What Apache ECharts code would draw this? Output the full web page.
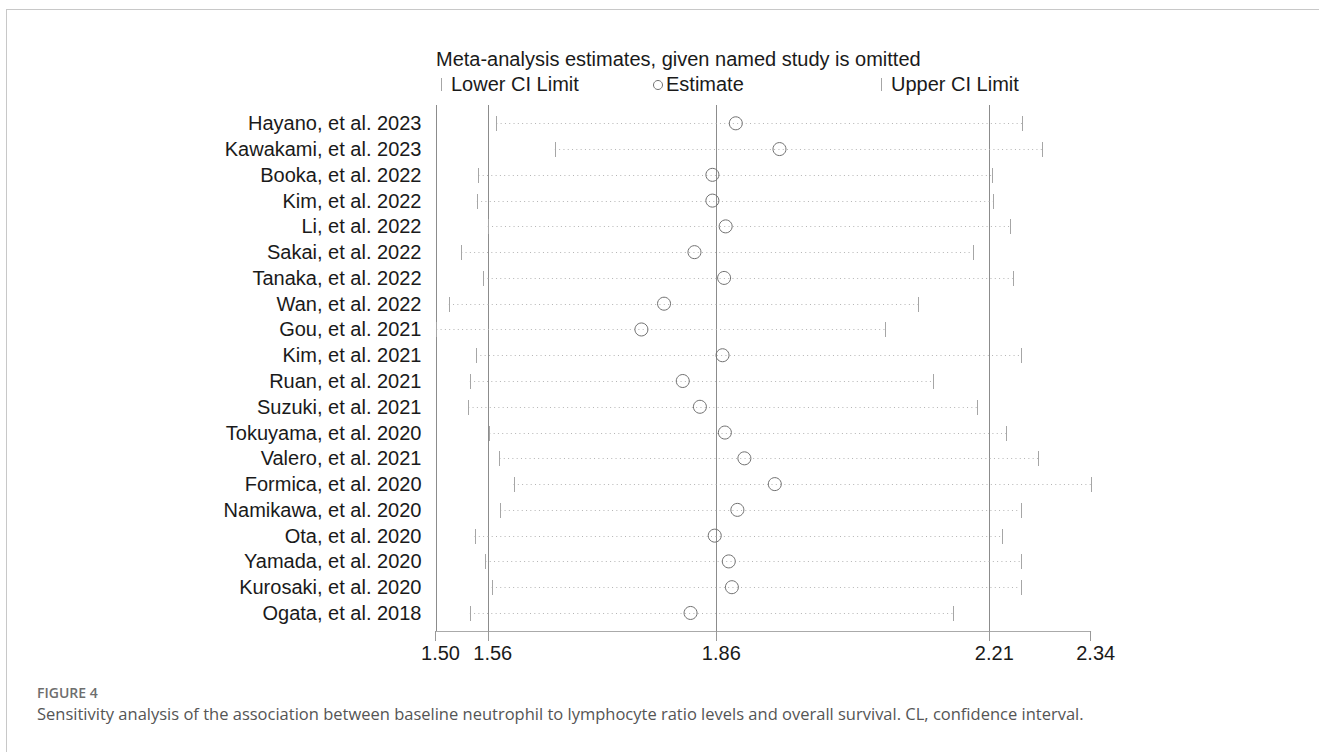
<!DOCTYPE html>
<html>
<head>
<meta charset="utf-8">
<script src="https://cdn.jsdelivr.net/npm/echarts@6/dist/echarts.min.js"></script>
<style>
html,body{margin:0;padding:0;background:#fff;}
#chart{width:1319px;height:752px;}
</style>
</head>
<body>
<div id="chart"></div>
<script>
// ---- data ----
const studies = [
  "Hayano, et al. 2023", "Kawakami, et al. 2023", "Booka, et al. 2022", "Kim, et al. 2022",
  "Li, et al. 2022", "Sakai, et al. 2022", "Tanaka, et al. 2022", "Wan, et al. 2022",
  "Gou, et al. 2021", "Kim, et al. 2021", "Ruan, et al. 2021", "Suzuki, et al. 2021",
  "Tokuyama, et al. 2020", "Valero, et al. 2021", "Formica, et al. 2020", "Namikawa, et al. 2020",
  "Ota, et al. 2020", "Yamada, et al. 2020", "Kurosaki, et al. 2020", "Ogata, et al. 2018"
];
const lowerCI = [1.578, 1.653, 1.555, 1.553, 1.567, 1.533, 1.561, 1.517, 1.501, 1.552,
                 1.544, 1.542, 1.569, 1.582, 1.600, 1.583, 1.550, 1.564, 1.572, 1.544];
const estimates = [1.885, 1.941, 1.855, 1.855, 1.872, 1.832, 1.870, 1.793, 1.764, 1.868,
                   1.817, 1.839, 1.871, 1.896, 1.935, 1.887, 1.858, 1.876, 1.880, 1.827];
const upperCI = [2.252, 2.278, 2.214, 2.215, 2.236, 2.189, 2.240, 2.119, 2.076, 2.250,
                 2.138, 2.194, 2.232, 2.273, 2.340, 2.250, 2.226, 2.251, 2.250, 2.163];
const referenceLines = [1.50, 1.567, 1.86, 2.21];
const axisTickValues = [1.50, 1.567, 1.86, 2.21, 2.34];
const axisTickLabels = ["1.50", "1.56", "1.86", "2.21", "2.34"];
const titleText = "Meta-analysis estimates, given named study is omitted";
const legendLabels = ["Lower CI Limit", "Estimate", "Upper CI Limit"];
const figureLabel = "FIGURE 4";
const captionText = "Sensitivity analysis of the association between baseline neutrophil to lymphocyte ratio levels and overall survival. CL, confidence interval.";

// ---- build ----
const Y_MIN = -0.71, Y_MAX = 19.70;
const rows = studies.map((s, i) => [i, lowerCI[i], estimates[i], upperCI[i]]);
const rowIdx = studies.map((s, i) => i);
const FONT = "'Liberation Sans', Arial, sans-serif";
const px = v => Math.round(v) + 0.5;

const chart = echarts.init(document.getElementById('chart'), null, {renderer: 'svg'});
chart.setOption({
  animation: false,
  backgroundColor: '#ffffff',
  title: {
    text: titleText,
    left: 431, top: 44,
    textStyle: {fontFamily: FONT, fontSize: 20, fontWeight: 'normal', color: '#1a1a1a'}
  },
  grid: {left: 435.5, right: 228.3, top: 105, bottom: 121, containLabel: false},
  xAxis: {
    type: 'value', min: 1.50, max: 2.34, position: 'bottom',
    axisLine: {show: true, onZero: false, lineStyle: {color: '#aaaaaa', width: 1}},
    axisTick: {show: true, length: 10, customValues: axisTickValues, lineStyle: {color: '#999999'}},
    axisLabel: {
      customValues: axisTickValues, margin: 12, padding: [0, 0, 0, 10],
      fontFamily: FONT, fontSize: 20, color: '#1a1a1a',
      formatter: v => {
        const k = axisTickValues.findIndex(t => Math.abs(t - v) < 1e-6);
        return k >= 0 ? axisTickLabels[k] : '';
      }
    },
    splitLine: {show: false}
  },
  yAxis: {
    type: 'value', inverse: true, min: Y_MIN, max: Y_MAX,
    axisLine: {show: false, onZero: false}, axisTick: {show: false}, splitLine: {show: false},
    axisLabel: {
      customValues: rowIdx, margin: 14,
      fontFamily: FONT, fontSize: 20, color: '#1a1a1a',
      formatter: v => studies[Math.round(v)] || ''
    }
  },
  series: [
    {
      type: 'custom', name: 'reference',
      data: referenceLines.map(v => [v]),
      encode: {x: 0},
      silent: true,
      renderItem: (params, api) => {
        const v = api.value(0);
        const a = api.coord([v, Y_MIN]);
        const b = api.coord([v, Y_MAX]);
        return {type: 'line', shape: {x1: px(a[0]), y1: a[1], x2: px(b[0]), y2: b[1]},
                style: {stroke: '#8c8c8c', lineWidth: 1}};
      }
    },
    {
      type: 'custom', name: 'studies',
      data: rows,
      encode: {y: 0, x: [1, 2, 3]},
      silent: true,
      renderItem: (params, api) => {
        const y = api.value(0);
        const lo = api.coord([api.value(1), y]);
        const es = api.coord([api.value(2), y]);
        const up = api.coord([api.value(3), y]);
        const cy = px(es[1]);
        return {
          type: 'group',
          children: [
            {type: 'line', shape: {x1: lo[0], y1: cy, x2: up[0], y2: cy},
             style: {stroke: '#b4b4b4', lineWidth: 1, lineDash: [1, 3.3]}},
            {type: 'line', shape: {x1: px(lo[0]), y1: cy - 7.5, x2: px(lo[0]), y2: cy + 7.5},
             style: {stroke: '#a6a6a6', lineWidth: 1}},
            {type: 'line', shape: {x1: px(up[0]), y1: cy - 7.5, x2: px(up[0]), y2: cy + 7.5},
             style: {stroke: '#a6a6a6', lineWidth: 1}},
            {type: 'circle', shape: {cx: es[0], cy: es[1], r: 6.5},
             style: {fill: 'none', stroke: '#707070', lineWidth: 1}}
          ]
        };
      }
    }
  ],
  graphic: [
    // frame
    {type: 'line', silent: true, shape: {x1: 6, y1: 9.5, x2: 1319, y2: 9.5}, style: {stroke: '#c8c8c8', lineWidth: 1}},
    {type: 'line', silent: true, shape: {x1: 6.5, y1: 9, x2: 6.5, y2: 752}, style: {stroke: '#c8c8c8', lineWidth: 1}},
    // legend
    {type: 'line', silent: true, shape: {x1: 441.5, y1: 78, x2: 441.5, y2: 91}, style: {stroke: '#a6a6a6', lineWidth: 1}},
    {type: 'text', silent: true, x: 451, y: 84, style: {text: legendLabels[0], font: '20px ' + FONT, fill: '#1a1a1a', verticalAlign: 'middle'}},
    {type: 'circle', silent: true, shape: {cx: 658, cy: 85, r: 4.5}, style: {fill: 'none', stroke: '#707070', lineWidth: 1}},
    {type: 'text', silent: true, x: 666, y: 84, style: {text: legendLabels[1], font: '20px ' + FONT, fill: '#1a1a1a', verticalAlign: 'middle'}},
    {type: 'line', silent: true, shape: {x1: 881.5, y1: 78, x2: 881.5, y2: 91}, style: {stroke: '#a6a6a6', lineWidth: 1}},
    {type: 'text', silent: true, x: 891, y: 84, style: {text: legendLabels[2], font: '20px ' + FONT, fill: '#1a1a1a', verticalAlign: 'middle'}},
    // caption
    {type: 'text', silent: true, x: 37, y: 692, style: {text: figureLabel, font: '600 14px "Open Sans", sans-serif', fill: '#6e6e6e', verticalAlign: 'middle'}},
    {type: 'text', silent: true, x: 37, y: 713, style: {text: captionText, font: '16.5px "Open Sans", sans-serif', fill: '#555555', verticalAlign: 'middle'}}
  ]
});
</script>
</body>
</html>
